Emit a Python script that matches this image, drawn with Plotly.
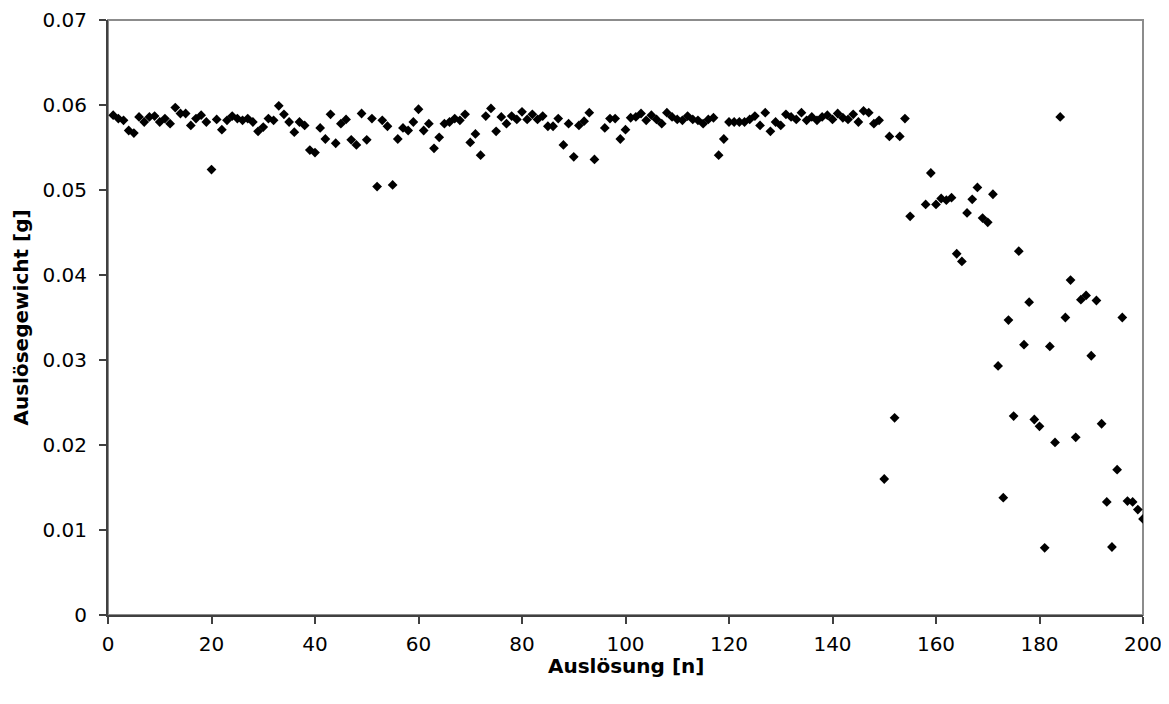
import plotly.graph_objects as go

# Auslösung index (1..200); None = no measurement
ausloesung = list(range(1, 201))

gewicht_1_50 = [
    0.0588, 0.0584, 0.0582, 0.0570, 0.0567, 0.0586, 0.0580, 0.0586, 0.0587, 0.0580,
    0.0584, 0.0578, 0.0597, 0.0590, 0.0590, 0.0576, 0.0584, 0.0588, 0.0580, 0.0524,
    0.0583, 0.0571, 0.0582, 0.0587, 0.0584, 0.0582, 0.0584, 0.0580, 0.0569, 0.0574,
    0.0584, 0.0582, 0.0599, 0.0589, 0.0580, 0.0568, 0.0580, 0.0576, 0.0547, 0.0544,
    0.0573, 0.0560, 0.0589, 0.0555, 0.0578, 0.0583, 0.0559, 0.0553, 0.0590, 0.0559,
]
gewicht_51_100 = [
    0.0584, 0.0504, 0.0582, 0.0575, 0.0506, 0.0560, 0.0573, 0.0570, 0.0580, 0.0595,
    0.0570, 0.0578, 0.0549, 0.0562, 0.0578, 0.0580, 0.0584, 0.0582, 0.0589, 0.0556,
    0.0566, 0.0541, 0.0587, 0.0596, 0.0569, 0.0586, 0.0578, 0.0587, 0.0583, 0.0592,
    0.0583, 0.0589, 0.0583, 0.0587, 0.0575, 0.0575, 0.0584, 0.0553, 0.0578, 0.0539,
    0.0576, 0.0581, 0.0591, 0.0536, None, 0.0573, 0.0584, 0.0584, 0.0560, 0.0571,
]
gewicht_101_150 = [
    0.0585, 0.0586, 0.0590, 0.0582, 0.0588, 0.0583, 0.0578, 0.0591, 0.0586, 0.0583,
    0.0582, 0.0587, 0.0583, 0.0582, 0.0578, 0.0583, 0.0585, 0.0541, 0.0560, 0.0580,
    0.0580, 0.0580, 0.0580, 0.0583, 0.0587, 0.0576, 0.0591, 0.0569, 0.0580, 0.0576,
    0.0589, 0.0586, 0.0583, 0.0591, 0.0582, 0.0586, 0.0582, 0.0586, 0.0588, 0.0583,
    0.0590, 0.0585, 0.0583, 0.0589, 0.0580, 0.0593, 0.0591, 0.0578, 0.0582, 0.0160,
]
gewicht_151_200 = [
    0.0563, 0.0232, 0.0563, 0.0584, 0.0469, None, None, 0.0483, 0.0520, 0.0483,
    0.0490, 0.0488, 0.0491, 0.0425, 0.0416, 0.0473, 0.0489, 0.0503, 0.0467, 0.0462,
    0.0495, 0.0293, 0.0138, 0.0347, 0.0234, 0.0428, 0.0318, 0.0368, 0.0230, 0.0222,
    0.0079, 0.0316, 0.0203, 0.0586, 0.0350, 0.0394, 0.0209, 0.0371, 0.0376, 0.0305,
    0.0370, 0.0225, 0.0133, 0.0080, 0.0171, 0.0350, 0.0134, 0.0133, 0.0124, 0.0113,
]
gewicht = gewicht_1_50 + gewicht_51_100 + gewicht_101_150 + gewicht_151_200

x_title = "Auslösung [n]"
y_title = "Auslösegewicht [g]"
x_ticks = [0, 20, 40, 60, 80, 100, 120, 140, 160, 180, 200]
y_ticks = [0, 0.01, 0.02, 0.03, 0.04, 0.05, 0.06, 0.07]
y_ticklabels = ["0", "0.01", "0.02", "0.03", "0.04", "0.05", "0.06", "0.07"]

fig = go.Figure()
fig.add_trace(go.Scatter(
    x=ausloesung, y=gewicht, mode="markers",
    marker=dict(symbol="diamond", size=7.5, color="#000000", line=dict(width=0)),
    showlegend=False, hoverinfo="x+y",
))

axis_font = dict(family="DejaVu Sans, Verdana, sans-serif", size=20, color="#000000")
title_font = dict(family="DejaVu Sans, Verdana, sans-serif", size=20, color="#000000")

fig.update_layout(
    width=1153, height=688,
    margin=dict(l=100, r=18, t=12, b=81, autoexpand=False),
    paper_bgcolor="#ffffff", plot_bgcolor="#ffffff",
    shapes=[dict(type="rect", xref="paper", yref="paper", x0=0, y0=0, x1=1, y1=1,
                 line=dict(color="#8c8c8c", width=2), layer="below")],
    annotations=[
        dict(text="<b>" + x_title + "</b>", xref="paper", yref="paper", x=0.5, y=0,
             xanchor="center", yanchor="middle", yshift=-51, showarrow=False,
             font=title_font),
        dict(text="<b>" + y_title + "</b>", xref="paper", yref="paper", x=0, y=0.5,
             xanchor="center", yanchor="middle", xshift=-88, textangle=-90,
             showarrow=False, font=title_font),
    ],
)
fig.update_xaxes(
    range=[0, 200], tickvals=x_ticks, ticks="outside", ticklen=7, tickwidth=1.5,
    tickcolor="#404040", showline=True, linecolor="#404040", linewidth=2,
    showgrid=False, zeroline=False, tickfont=axis_font, ticklabelstandoff=3,
    automargin=False, ticklabeloverflow="allow",
)
fig.update_yaxes(
    range=[0, 0.07], tickvals=y_ticks, ticktext=y_ticklabels, ticks="outside",
    ticklen=7, tickwidth=1.5, tickcolor="#404040", showline=True,
    linecolor="#404040", linewidth=2, showgrid=False, zeroline=False,
    tickfont=axis_font, ticklabelstandoff=8,
    automargin=False, ticklabeloverflow="allow",
)

fig.write_html("out.html")
